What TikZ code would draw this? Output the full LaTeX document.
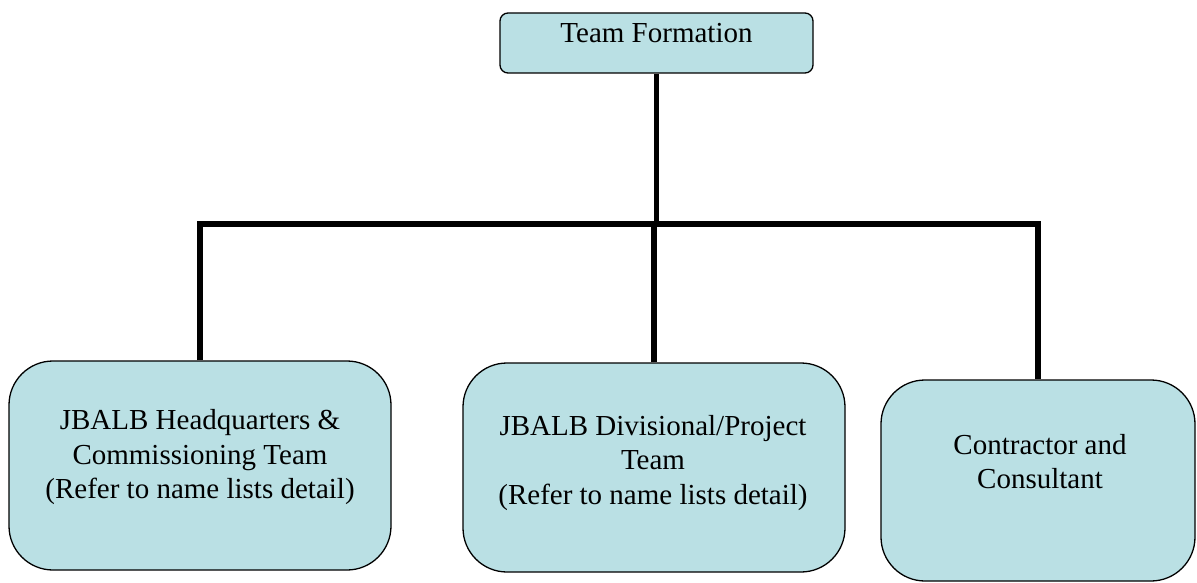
\documentclass[tikz,border=0pt]{standalone}
\usepackage{fontspec}
\setmainfont{Liberation Serif}
\definecolor{boxfill}{RGB}{186,224,228}
\begin{document}
\begin{tikzpicture}[x=1pt, y=-1pt,
    box/.style={draw, line width=1.3pt, fill=boxfill, rounded corners=44pt, inner sep=0pt},
    conn/.style={line width=5.5pt},
    lbl/.style={align=center, font=\fontsize{29}{34.5}\selectfont, inner sep=0pt}]
    \useasboundingbox (0,0) rectangle (1197,583);

    % Top: formation box
    \node[box, rounded corners=8pt, minimum width=313pt, text height=30pt, text depth=30pt,
          font=\fontsize{29}{34.5}\selectfont] (form) at (656.5,43) {Team Formation};
    \coordinate (fork) at (form.south |- 0,224);

    % Bottom: the three teams
    \node[box, minimum width=382pt, minimum height=209pt] (hq) at (200,465.5) {};
    \node[lbl] (hqtext) at (200,457.5) {JBALB Headquarters \&\\Commissioning Team\\(Refer to name lists detail)};
    \node[box, minimum width=382pt, minimum height=209pt] (dp) at (654,467.5) {};
    \node[lbl] (dptext) at (653,463) {JBALB Divisional/Project\\Team\\(Refer to name lists detail)};
    \node[box, minimum width=314pt, minimum height=201pt] (cc) at (1038,480.5) {};
    \node[lbl] (cctext) at (1040,461.5) {Contractor and\\Consultant};

    % Connectors
    \draw[conn] (form.south) -- (fork);
    \draw[conn] (hq.north) |- (fork) -| (cc.north);
    \draw[conn] (dp.north) -- (dp.north |- fork);
\end{tikzpicture}
\end{document}
